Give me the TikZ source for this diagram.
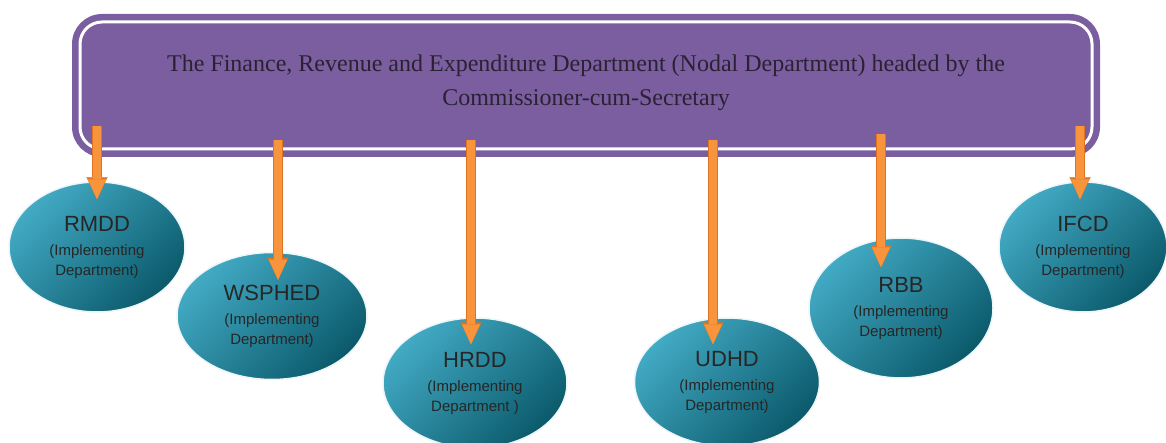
\documentclass[tikz,border=0pt]{standalone}
\usepackage{fontspec}
\setmainfont{Liberation Serif}
\setsansfont{Liberation Sans}
\usetikzlibrary{arrows.meta,shapes.geometric}

\definecolor{boxpurple}{HTML}{7B5EA0}
\definecolor{titletext}{HTML}{2A2233}
\definecolor{teallight}{HTML}{42AAC4}
\definecolor{tealdark}{HTML}{0B5A6B}
\definecolor{arrowfill}{HTML}{F7943C}
\definecolor{arrowedge}{HTML}{E0731F}

\tikzset{
  dept/.style={ellipse, inner sep=0pt, draw=white!90!teallight, line width=1.5pt,
    top color=teallight, bottom color=tealdark, shading angle=45,
    align=center, text=black!85, font=\sffamily\fontsize{15}{20}\selectfont},
  flow/.style={draw=arrowfill, line width=8pt,
    -{Triangle[width=18pt,length=20pt,line width=0.1pt]},
    preaction={draw=arrowedge, line width=10pt,
      -{Triangle[width=21pt,length=22pt,line width=0.1pt]}}},
}
\newcommand{\deptname}[1]{{\fontsize{22}{25}\selectfont #1}\\[4pt]}

\begin{document}
\begin{tikzpicture}[x=1pt,y=-1pt]
  \useasboundingbox (0,0) rectangle (1166,443);

  % nodal department
  \fill[boxpurple, rounded corners=30pt] (72,14) rectangle (1100,157);
  \node[fill=boxpurple, draw=white, line width=3pt, rounded corners=22pt,
    minimum width=1012pt, minimum height=127pt] (fin) at (586,85.5) {};
  \node[align=center, text=titletext, font=\fontsize{24}{34}\selectfont]
    (title) at (586,83)
    {The Finance, Revenue and Expenditure Department (Nodal Department) headed by the\\
     Commissioner-cum-Secretary};

  % implementing departments
  \node[dept, minimum width=176pt, minimum height=130pt] (rmdd) at (97,247)
    {\deptname{RMDD}(Implementing\\Department)};
  \node[dept, minimum width=190pt, minimum height=127pt] (wsphed) at (272,316)
    {\deptname{WSPHED}(Implementing\\Department)};
  \node[dept, minimum width=184pt, minimum height=130pt] (hrdd) at (475,383)
    {\deptname{HRDD}(Implementing\\Department )};
  \node[dept, minimum width=185pt, minimum height=128pt] (udhd) at (727,382)
    {\deptname{UDHD}(Implementing\\Department)};
  \node[dept, minimum width=184pt, minimum height=140pt] (rbb) at (901,308)
    {\deptname{RBB}(Implementing\\Department)};
  \node[dept, minimum width=168pt, minimum height=130pt] (ifcd) at (1083,247)
    {\deptname{IFCD}(Implementing\\Department)};

  % arrows
  \coordinate (a1) at (97,126);
  \coordinate (a2) at (278,140);
  \coordinate (a3) at (471,140);
  \coordinate (a4) at (713,140);
  \coordinate (a5) at (881,134);
  \coordinate (a6) at (1080,126);

  \draw[flow, shorten >=-18pt] (a1) -- (a1 |- rmdd.north);
  \draw[flow, shorten >=-28pt] (a2) -- (a2 |- wsphed.north);
  \draw[flow, shorten >=-27pt] (a3) -- (a3 |- hrdd.north);
  \draw[flow, shorten >=-27pt] (a4) -- (a4 |- udhd.north);
  \draw[flow, shorten >=-30pt] (a5) -- (a5 |- rbb.north);
  \draw[flow, shorten >=-18pt] (a6) -- (a6 |- ifcd.north);
\end{tikzpicture}
\end{document}
